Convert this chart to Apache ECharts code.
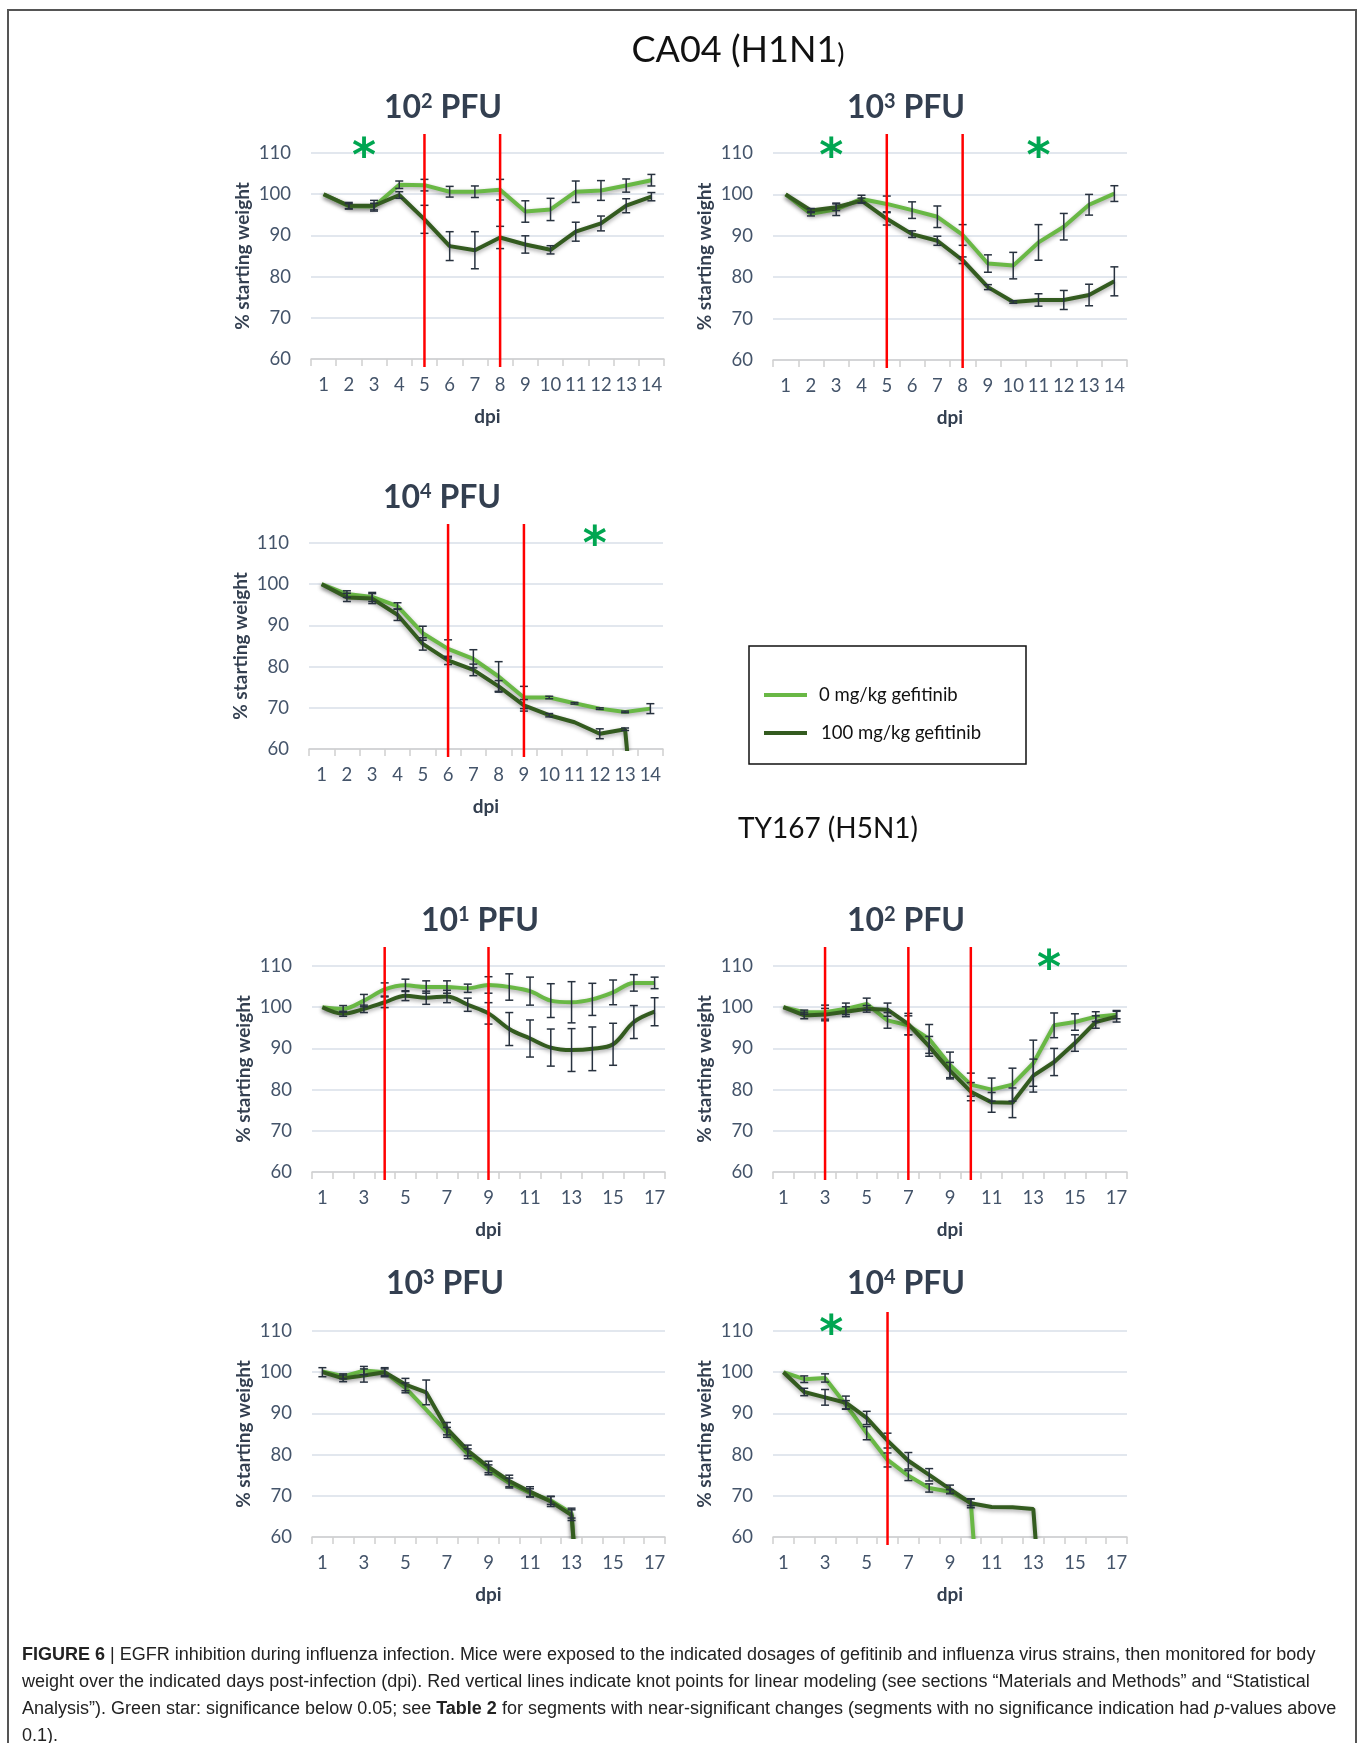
<!DOCTYPE html>
<html>
<head>
<meta charset="utf-8">
<script src="https://cdn.jsdelivr.net/npm/echarts@6.0.0/dist/echarts.min.js"></script>
<style>
  html, body { margin: 0; padding: 0; background: #fff; }
  #fig { width: 1360px; height: 1743px; }
</style>
</head>
<body>
<div id="fig"></div>
<script>
// days post infection
var days14 = ['1', '2', '3', '4', '5', '6', '7', '8', '9', '10', '11', '12', '13', '14']
var days17 = ['1', '2', '3', '4', '5', '6', '7', '8', '9', '10', '11', '12', '13', '14', '15', '16', '17']

// CA04 (H1N1) 10^2 PFU
var ca04e2Ctrl = [100, 97.1, 97.0, 102.3, 102.2, 100.6, 100.6, 101.1, 95.8, 96.3, 100.6, 100.9, 102.1, 103.4]
var ca04e2CtrlSem = [0, 0.6, 0.8, 0.9, 1.4, 1.3, 1.4, 2.5, 2.6, 2.7, 2.6, 2.4, 1.6, 1.4]
var ca04e2Gef = [100, 97.2, 97.2, 99.8, 93.9, 87.4, 86.4, 89.5, 87.8, 86.5, 90.9, 92.9, 97.2, 99.4]
var ca04e2GefSem = [0, 0.8, 1.3, 0.8, 3.4, 3.5, 4.5, 2.7, 2.1, 1.0, 2.3, 1.8, 1.7, 1.0]
var ca04e2Knots = [5, 8]
var ca04e2Stars = [[2.6, 111.3]]

// CA04 (H1N1) 10^3 PFU
var ca04e3Ctrl = [100, 95.3, 96.4, 98.9, 97.7, 96.2, 94.6, 90.2, 83.3, 82.8, 88.4, 92.2, 97.5, 100.2]
var ca04e3CtrlSem = [0, 0.5, 1.5, 0.9, 1.9, 2.0, 2.6, 2.5, 2.1, 3.2, 4.3, 3.2, 2.5, 1.9]
var ca04e3Gef = [100, 96.1, 96.9, 98.5, 94.1, 90.4, 88.8, 84.1, 77.6, 74.0, 74.5, 74.5, 75.7, 79.0]
var ca04e3GefSem = [0, 0.5, 0.8, 0.6, 1.5, 0.8, 1.1, 0.8, 0.6, 0.3, 1.5, 2.3, 2.6, 3.5]
var ca04e3Knots = [5, 8]
var ca04e3Stars = [[2.8, 111.3], [11, 111.3]]

// CA04 (H1N1) 10^4 PFU
var ca04e4Ctrl = [100, 97.6, 96.9, 94.7, 88.1, 84.3, 81.9, 77.6, 72.5, 72.5, 71.1, 69.8, 69.0, 69.8]
var ca04e4CtrlSem = [0, 0.8, 1.1, 0.8, 1.7, 2.2, 2.2, 3.6, 2.7, 0.3, 0.2, 0.2, 0.2, 1.2]
var ca04e4Gef = [100, 96.8, 96.5, 92.6, 85.5, 81.5, 79.2, 75.2, 70.6, 68.2, 66.5, 63.7, 64.8, 0]
var ca04e4GefSem = [0, 1.0, 1.2, 1.4, 1.5, 1.0, 1.4, 1.4, 1.4, 0.4, 0, 1.2, 0.3, 0]
var ca04e4Knots = [6, 9]
var ca04e4Stars = [[11.8, 111.8]]

// TY167 (H5N1) 10^1 PFU
var ty167e1Ctrl = [100, 99.6, 101.6, 104.3, 105.3, 104.9, 104.9, 104.6, 105.4, 104.9, 103.9, 101.6, 101.2, 101.9, 103.6, 105.9, 105.9]
var ty167e1CtrlSem = [0, 0.8, 1.5, 1.6, 1.5, 1.5, 1.5, 1.0, 2.0, 3.2, 3.4, 4.1, 5.0, 3.9, 3.0, 2.0, 1.4]
var ty167e1Gef = [100, 98.4, 99.6, 101.2, 102.8, 102.3, 102.6, 100.6, 98.5, 94.7, 92.4, 90.2, 89.6, 89.9, 91.0, 96.4, 98.9]
var ty167e1GefSem = [0, 0.6, 0.9, 1.3, 1.2, 1.6, 1.5, 1.6, 2.6, 4.0, 4.5, 4.5, 5.2, 5.3, 5.1, 4.0, 3.4]
var ty167e1Knots = [4, 9]
var ty167e1Stars = []

// TY167 (H5N1) 10^2 PFU
var ty167e2Ctrl = [100, 98.8, 98.8, 99.6, 100.8, 96.8, 95.6, 92.3, 86.0, 81.2, 80.0, 81.2, 86.4, 95.6, 96.4, 97.7, 98.2]
var ty167e2CtrlSem = [0, 0.5, 1.7, 1.4, 1.4, 1.9, 2.3, 3.5, 3.1, 2.8, 2.8, 4.0, 5.6, 3.0, 2.0, 1.2, 1.0]
var ty167e2Gef = [100, 98.0, 98.2, 98.9, 99.6, 99.4, 95.9, 90.5, 84.6, 79.5, 76.9, 76.8, 83.4, 86.7, 91.3, 96.4, 97.7]
var ty167e2GefSem = [0, 0.8, 1.5, 1.2, 0.8, 1.6, 2.6, 2.4, 2.0, 2.2, 2.4, 3.6, 4.0, 3.3, 2.0, 1.5, 1.3]
var ty167e2Knots = [3, 7, 10]
var ty167e2Stars = [[13.75, 111.5]]

// TY167 (H5N1) 10^3 PFU
var ty167e3Ctrl = [100.2, 99.0, 100.4, 100.0, 96.2, 90.9, 85.4, 80.2, 76.3, 73.1, 70.7, 68.9, 65.8, 0, null, null, null]
var ty167e3CtrlSem = [0, 0.6, 1.0, 0.8, 1.2, 0, 1.2, 1.2, 1.2, 1.2, 1.0, 1.0, 1.2, 0, 0, 0, 0]
var ty167e3Gef = [100, 98.5, 99.2, 100.0, 97.0, 95.1, 86.3, 81.0, 77.0, 73.6, 71.0, 68.6, 65.3, 0, null, null, null]
var ty167e3GefSem = [1.1, 0.8, 1.6, 1.1, 1.5, 3.0, 1.5, 1.3, 1.4, 1.4, 1.2, 1.2, 1.3, 0, 0, 0, 0]
var ty167e3Knots = []
var ty167e3Stars = []

// TY167 (H5N1) 10^4 PFU
var ty167e4Ctrl = [100, 98.3, 98.6, 92.1, 85.2, 78.7, 74.9, 71.9, 71.0, 68.4, 0, null, null, null, null, null, null]
var ty167e4CtrlSem = [0, 0.8, 1.0, 1.0, 1.6, 1.7, 1.2, 1.0, 0.5, 0.8, 0, 0, 0, 0, 0, 0, 0]
var ty167e4Gef = [100, 95.2, 93.9, 92.6, 88.9, 83.4, 78.5, 75.1, 71.6, 68.2, 67.3, 67.2, 66.8, 0, null, null, null]
var ty167e4GefSem = [0, 0.9, 1.9, 1.6, 1.6, 1.8, 2.0, 1.5, 1.0, 1.1, 0, 0, 0, 0, 0, 0, 0]
var ty167e4Knots = [6]
var ty167e4Stars = [[3.3, 111.5]]

var ctrlName = '0 mg/kg gefitinib'
var gefName = '100 mg/kg gefitinib'
var ctrlColor = '#69b845'
var gefColor = '#335b1f'
var inkColor = '#333F50'
var tickColor = '#44546A'

var panels = [
  { exp: '2', days: days14, ctrl: ca04e2Ctrl, ctrlSem: ca04e2CtrlSem, gef: ca04e2Gef, gefSem: ca04e2GefSem, knots: ca04e2Knots, stars: ca04e2Stars,
    box: { left: 311, top: 153, width: 353, height: 206 }, head: [443, 108] },
  { exp: '3', days: days14, ctrl: ca04e3Ctrl, ctrlSem: ca04e3CtrlSem, gef: ca04e3Gef, gefSem: ca04e3GefSem, knots: ca04e3Knots, stars: ca04e3Stars,
    box: { left: 773, top: 153, width: 354, height: 207 }, head: [906, 108] },
  { exp: '4', days: days14, ctrl: ca04e4Ctrl, ctrlSem: ca04e4CtrlSem, gef: ca04e4Gef, gefSem: ca04e4GefSem, knots: ca04e4Knots, stars: ca04e4Stars,
    box: { left: 309, top: 543, width: 354, height: 206 }, head: [442, 498] },
  { exp: '1', days: days17, ctrl: ty167e1Ctrl, ctrlSem: ty167e1CtrlSem, gef: ty167e1Gef, gefSem: ty167e1GefSem, knots: ty167e1Knots, stars: ty167e1Stars,
    box: { left: 312, top: 966, width: 353, height: 206 }, head: [480, 921], smooth: 0.35 },
  { exp: '2', days: days17, ctrl: ty167e2Ctrl, ctrlSem: ty167e2CtrlSem, gef: ty167e2Gef, gefSem: ty167e2GefSem, knots: ty167e2Knots, stars: ty167e2Stars,
    box: { left: 773, top: 966, width: 354, height: 206 }, head: [906, 921] },
  { exp: '3', days: days17, ctrl: ty167e3Ctrl, ctrlSem: ty167e3CtrlSem, gef: ty167e3Gef, gefSem: ty167e3GefSem, knots: ty167e3Knots, stars: ty167e3Stars,
    box: { left: 312, top: 1331, width: 353, height: 206 }, head: [445, 1284] },
  { exp: '4', days: days17, ctrl: ty167e4Ctrl, ctrlSem: ty167e4CtrlSem, gef: ty167e4Gef, gefSem: ty167e4GefSem, knots: ty167e4Knots, stars: ty167e4Stars,
    box: { left: 773, top: 1331, width: 354, height: 206 }, head: [906, 1284] }
]

// error bars: [index, low, high]
function semBars (vals, sem) {
  var out = []
  vals.forEach(function (v, i) {
    if (v != null && v > 0 && sem[i] > 0) out.push([i, v - sem[i], v + sem[i]])
  })
  return out
}

function renderSem (params, api) {
  var i = api.value(0)
  var lo = api.coord([i, api.value(1)])
  var hi = api.coord([i, api.value(2)])
  var st = { stroke: '#28323f', lineWidth: 1.5 }
  return {
    type: 'group',
    children: [
      { type: 'line', shape: { x1: lo[0], y1: lo[1], x2: hi[0], y2: hi[1] }, style: st },
      { type: 'line', shape: { x1: lo[0] - 4, y1: lo[1], x2: lo[0] + 4, y2: lo[1] }, style: st },
      { type: 'line', shape: { x1: hi[0] - 4, y1: hi[1], x2: hi[0] + 4, y2: hi[1] }, style: st }
    ]
  }
}

// knot lines run a bit past the plot top and bottom
function renderKnot (params, api) {
  var top = api.coord([api.value(0), api.value(2)])
  var bot = api.coord([api.value(0), api.value(1)])
  return {
    type: 'line',
    shape: { x1: top[0], y1: top[1] - 19, x2: bot[0], y2: bot[1] + 8 },
    style: { stroke: '#ff0000', lineWidth: 2.5 }
  }
}

// star position given in dpi units, may sit between two days
function renderStar (params, api) {
  var idx = api.value(0) - 1
  var i0 = Math.floor(idx)
  var p0 = api.coord([i0, api.value(1)])
  var p1 = api.coord([i0 + 1, api.value(1)])
  var x = p0[0] + (idx - i0) * (p1[0] - p0[0])
  return {
    type: 'text',
    x: x,
    y: p0[1] + 11,
    style: { text: '*', fontFamily: 'DejaVu Sans', fontWeight: 'bold', fontSize: 46, fill: '#00a651', align: 'center', verticalAlign: 'middle' }
  }
}

var grids = []
var xAxes = []
var yAxes = []
var series = []
var graphics = []

panels.forEach(function (p, g) {
  grids.push({ left: p.box.left, top: p.box.top, width: p.box.width, height: p.box.height, containLabel: false, outerBoundsMode: 'none' })
  xAxes.push({
    type: 'category',
    gridIndex: g,
    data: p.days,
    boundaryGap: true,
    name: 'dpi',
    nameLocation: 'middle',
    nameGap: 48,
    nameTextStyle: { fontFamily: 'Lato', fontWeight: 'bold', fontSize: 19, color: inkColor },
    axisLine: { show: true, onZero: false, lineStyle: { color: '#d0d0d0', width: 1.5 } },
    axisTick: { show: true, interval: 0, length: 7, lineStyle: { color: '#d0d0d0', width: 1.5 } },
    axisLabel: { interval: p.days.length > 14 ? 1 : 0, margin: 17, fontFamily: 'Lato', fontSize: 18.5, color: tickColor, hideOverlap: false },
    splitLine: { show: false }
  })
  yAxes.push({
    type: 'value',
    gridIndex: g,
    min: 60,
    max: 110,
    interval: 10,
    name: '% starting weight',
    nameLocation: 'middle',
    nameRotate: 90,
    nameGap: 59,
    nameTextStyle: { fontFamily: 'Lato', fontWeight: 'bold', fontSize: 19, color: inkColor },
    axisLine: { show: false },
    axisTick: { show: false },
    axisLabel: { margin: 20, fontFamily: 'Lato', fontSize: 18.5, color: tickColor },
    splitLine: { lineStyle: { color: '#d9dfe8', width: 1.5 } }
  })

  var lineBase = {
    type: 'line',
    xAxisIndex: g,
    yAxisIndex: g,
    showSymbol: false,
    symbol: 'none',
    smooth: p.smooth || false,
    clip: true,
    connectNulls: false
  }
  series.push(Object.assign({}, lineBase, {
    name: ctrlName,
    data: p.ctrl,
    z: 2,
    itemStyle: { color: ctrlColor },
    lineStyle: { color: ctrlColor, width: 4, shadowColor: 'rgba(0,0,0,0.35)', shadowBlur: 4, shadowOffsetY: 2 }
  }))
  series.push(Object.assign({}, lineBase, {
    name: gefName,
    data: p.gef,
    z: 3,
    itemStyle: { color: gefColor },
    lineStyle: { color: gefColor, width: 4, shadowColor: 'rgba(0,0,0,0.35)', shadowBlur: 4, shadowOffsetY: 2 }
  }))
  series.push({
    type: 'custom',
    xAxisIndex: g,
    yAxisIndex: g,
    clip: false,
    z: 4,
    encode: { x: 0, y: [1, 2] },
    data: semBars(p.ctrl, p.ctrlSem).concat(semBars(p.gef, p.gefSem)),
    renderItem: renderSem
  })
  series.push({
    type: 'custom',
    xAxisIndex: g,
    yAxisIndex: g,
    clip: false,
    z: 5,
    encode: { x: 0, y: [1, 2] },
    data: p.knots.map(function (k) { return [k - 1, 60, 110] }),
    renderItem: renderKnot
  })
  series.push({
    type: 'custom',
    xAxisIndex: g,
    yAxisIndex: g,
    clip: false,
    z: 6,
    encode: { x: 0, y: 1 },
    data: p.stars,
    renderItem: renderStar
  })

  graphics.push({
    type: 'text',
    x: p.head[0],
    y: p.head[1],
    style: {
      text: '{b|10}{s|' + p.exp + '}{b| PFU}',
      align: 'center',
      verticalAlign: 'middle',
      rich: {
        b: { fontFamily: 'Lato', fontWeight: 'bold', fontSize: 32, fill: inkColor },
        s: { fontFamily: 'Lato', fontWeight: 'bold', fontSize: 20, fill: inkColor, verticalAlign: 'top' }
      }
    }
  })
})

// frame, strain headings, legend box and caption
graphics.push({
  type: 'rect',
  shape: { x: 8, y: 10, width: 1348, height: 1760 },
  style: { fill: 'none', stroke: '#555', lineWidth: 2 }
})
graphics.push({
  type: 'text',
  x: 738,
  y: 50,
  style: {
    text: '{m|CA04 (H1N1}{p|)}',
    align: 'center',
    verticalAlign: 'middle',
    rich: {
      m: { fontFamily: 'Lato', fontSize: 36, fill: '#111' },
      p: { fontFamily: 'Lato', fontSize: 27, fill: '#111', verticalAlign: 'bottom' }
    }
  }
})
graphics.push({
  type: 'text',
  x: 828,
  y: 829,
  style: { text: 'TY167 (H5N1)', fontFamily: 'Lato', fontSize: 28, fill: '#111', align: 'center', verticalAlign: 'middle' }
})
graphics.push({
  type: 'group',
  children: [
    { type: 'rect', shape: { x: 749, y: 646, width: 277, height: 118 }, style: { fill: '#fff', stroke: '#111', lineWidth: 1.5 } },
    { type: 'line', shape: { x1: 764, y1: 695, x2: 807, y2: 695 }, style: { stroke: ctrlColor, lineWidth: 4 } },
    { type: 'line', shape: { x1: 764, y1: 733, x2: 807, y2: 733 }, style: { stroke: gefColor, lineWidth: 4 } },
    { type: 'text', x: 819, y: 695, style: { text: ctrlName, fontFamily: 'Lato', fontSize: 18.5, fill: '#111', verticalAlign: 'middle' } },
    { type: 'text', x: 821, y: 733, style: { text: gefName, fontFamily: 'Lato', fontSize: 18.5, fill: '#111', verticalAlign: 'middle' } }
  ]
})

var captionLines = [
  '{b|FIGURE 6 }| EGFR inhibition during influenza infection. Mice were exposed to the indicated dosages of gefitinib and influenza virus strains, then monitored for body',
  'weight over the indicated days post-infection (dpi). Red vertical lines indicate knot points for linear modeling (see sections \u201cMaterials and Methods\u201d and \u201cStatistical',
  'Analysis\u201d). Green star: significance below 0.05; see {b|Table 2} for segments with near-significant changes (segments with no significance indication had {i|p}-values above',
  '0.1).'
]
captionLines.forEach(function (t, i) {
  graphics.push({
    type: 'text',
    x: 22,
    y: 1655 + i * 27,
    style: {
      text: t,
      fontFamily: 'Liberation Sans',
      fontSize: 18,
      fill: '#222',
      verticalAlign: 'middle',
      rich: {
        b: { fontFamily: 'Liberation Sans', fontWeight: 'bold', fontSize: 18, fill: '#222' },
        i: { fontFamily: 'Liberation Sans', fontStyle: 'italic', fontSize: 18, fill: '#222' }
      }
    }
  })
})

var myChart = echarts.init(document.getElementById('fig'), null, { renderer: 'canvas' })
var option = {
  backgroundColor: '#fff',
  animation: false,
  grid: grids,
  xAxis: xAxes,
  yAxis: yAxes,
  series: series,
  graphic: graphics
}
myChart.setOption(option)
</script>
</body>
</html>
